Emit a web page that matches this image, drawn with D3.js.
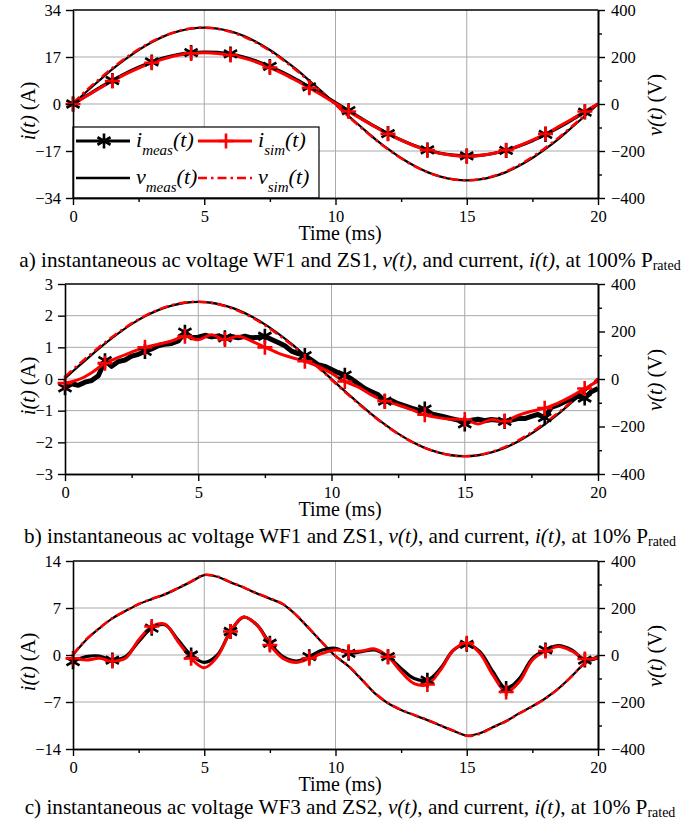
<!DOCTYPE html>
<html>
<head>
<meta charset="utf-8">
<script src="https://cdn.jsdelivr.net/npm/d3@7"></script>
<style>
body { margin: 0; background: #fff; }
text { font-family: "Liberation Serif", "Times New Roman", serif; }
</style>
</head>
<body>
<div class="canvas"></div>
<script>
// time grids (ms)
const time05 = d3.range(0, 20.001, 0.5);   // 41 points
const time025 = d3.range(0, 20.001, 0.25); // 81 points

// marker times (every 1.5 ms)
const markerTimes = [0, 1.5, 3, 4.5, 6, 7.5, 9, 10.5, 12, 13.5, 15, 16.5, 18, 19.5];

// ---- panel a : WF1 / ZS1, 100% Prated ----
const aVoltMeas = [0, 51, 100, 148, 191, 230, 263, 290, 309, 321, 325, 321, 309, 290, 263, 230, 191, 148, 100, 51, 0,
  -51, -100, -148, -191, -230, -263, -290, -309, -321, -325, -321, -309, -290, -263, -230, -191, -148, -100, -51, 0];
const aVoltSim = [4, 57, 106, 153, 195, 233, 265, 291, 310, 322, 325, 320, 307, 287, 260, 226, 187, 144, 97, 48, -3,
  -54, -103, -150, -193, -231, -264, -290, -309, -321, -325, -320, -307, -287, -259, -225, -186, -143, -96, -47, 2];
const aCurMeas = [0, 2.9, 5.8, 8.5, 11.1, 13.3, 15.2, 16.8, 17.9, 18.6, 18.8, 18.7, 18.1, 17.0, 15.5, 13.6, 11.4, 8.9, 6.2, 3.4, 0.5,
  -2.4, -5.3, -8.1, -10.7, -13.0, -15.0, -16.6, -17.8, -18.5, -18.8, -18.6, -17.9, -16.8, -15.2, -13.3, -11.0, -8.5, -5.8, -2.9, 0];
const aCurSim = [0, 2.8, 5.6, 8.3, 10.8, 13.0, 14.9, 16.4, 17.6, 18.3, 18.5, 18.3, 17.7, 16.6, 15.1, 13.2, 11.0, 8.5, 5.9, 3.1, 0.2,
  -2.7, -5.5, -8.2, -10.8, -13.1, -15.1, -16.7, -17.9, -18.6, -18.9, -18.6, -17.9, -16.7, -15.1, -13.1, -10.8, -8.2, -5.5, -2.7, 0];

// ---- panel b : WF1 / ZS1, 10% Prated ----
const bVoltMeas = [3, 53, 102, 149, 192, 231, 264, 290, 309, 321, 325, 321, 309, 290, 263, 230, 191, 148, 100, 51, 0,
  -51, -100, -148, -191, -230, -263, -290, -309, -321, -325, -321, -309, -290, -263, -230, -191, -148, -100, -51, 0];
const bVoltSim = [10, 60, 108, 154, 196, 234, 266, 292, 311, 322, 325, 320, 307, 287, 260, 226, 187, 144, 97, 48, -3,
  -54, -103, -150, -193, -231, -264, -290, -309, -321, -325, -320, -307, -287, -259, -225, -186, -143, -96, -47, 2];
// measured current is noisy -> finer grid
const bCurMeas = [-0.28, -0.15, -0.2, -0.1, -0.05, 0.1, 0.58, 0.4, 0.55, 0.6, 0.72, 0.78, 0.87, 0.95, 1.05, 1.1, 1.12, 1.2, 1.48, 1.3,
  1.32, 1.38, 1.33, 1.36, 1.3, 1.34, 1.3, 1.35, 1.3, 1.32, 1.35, 1.25, 1.15, 1.05, 0.88, 0.8, 0.74, 0.6, 0.45, 0.4,
  0.3, 0.2, 0.12, 0.0, -0.15, -0.3, -0.4, -0.5, -0.7, -0.68, -0.78, -0.85, -0.92, -0.98, -0.95, -1.1, -1.15, -1.2, -1.25, -1.3,
  -1.42, -1.3, -1.27, -1.32, -1.28, -1.3, -1.34, -1.3, -1.25, -1.25, -1.18, -1.12, -1.22, -0.9, -0.82, -0.72, -0.62, -0.55, -0.6, -0.4, -0.3];
const bCurSim = [-0.13, -0.02, 0.2, 0.5, 0.68, 0.85, 1.0, 1.1, 1.2, 1.35, 1.24, 1.4, 1.25, 1.35, 1.2, 1.0, 0.82, 0.68, 0.56, 0.4, 0.18,
  -0.08, -0.25, -0.5, -0.7, -0.82, -0.97, -1.13, -1.22, -1.27, -1.28, -1.42, -1.28, -1.33, -1.15, -1.02, -0.92, -0.76, -0.55, -0.3, -0.07];

// ---- panel c : WF3 / ZS2, 10% Prated ----
const cVoltMeas = [0, 64, 113, 156, 187, 216, 238, 258, 284, 312, 340, 333, 309, 287, 262, 240, 216, 170, 112, 52, -5,
  -48, -105, -163, -205, -234, -256, -277, -300, -323, -343, -333, -307, -281, -248, -218, -184, -142, -90, -35, -5];
const cVoltSim = [2, 66, 114, 157, 188, 217, 239, 259, 285, 313, 341, 334, 310, 288, 263, 241, 217, 171, 113, 53, -4,
  -47, -104, -162, -204, -233, -255, -276, -299, -322, -344, -335, -308, -282, -249, -219, -185, -143, -91, -36, -6];
const cCurMeas = [-1.0, -0.25, -0.15, -0.75, -0.25, 2.0, 4.0, 4.5, 2.25, 0.0, -1.1, 0.0, 3.5, 5.65, 4.5, 1.75, -0.25, -0.9, -0.25, 0.75, 1.0,
  0.25, 0.5, 0.75, -0.25, -2.0, -3.5, -3.75, -2.0, 0.75, 1.6, 0.5, -2.5, -5.0, -3.5, -0.5, 0.75, 1.4, 0.75, -0.75, -0.4];
const cCurSim = [-0.5, -0.75, -0.5, -0.9, -0.5, 2.25, 4.25, 4.6, 2.0, -0.5, -1.9, -0.25, 3.5, 5.65, 4.5, 1.5, -0.5, -1.1, -0.5, 0.25, 0.75,
  0.5, 0.6, 0.9, -0.25, -2.5, -4.25, -4.4, -2.25, 0.75, 1.75, 0.25, -3.0, -5.5, -4.0, -0.75, 0.6, 1.25, 0.6, -0.6, -0.4];

// tick labels
const xTicks = [0, 5, 10, 15, 20];
const xMinor = [2.5, 7.5, 12.5, 17.5];
const vTicks = [-400, -200, 0, 200, 400];
const vMinor = [-300, -100, 100, 300];

const RED = '#ff0000';
const DASHDOT = '9,4,2.5,4';

const svg = d3.select('.canvas')
    .append('svg')
    .attr('width', 689)
    .attr('height', 822);

const zip = (ts, vs) => ts.map((t, i) => ({t: t, v: vs[i]}));

const panels = [
  { top: 10, bottom: 198, left: 73, right: 598, iDomain: [-34, 34], iTicks: [-34, -17, 0, 17, 34],
    vMeas: aVoltMeas, vSim: aVoltSim, iMeas: zip(time05, aCurMeas), iSim: zip(time05, aCurSim), noisy: false,
    label: 'a)', wf: 'WF1 and ZS1', pct: '100%', legend: true, capY: 267 },
  { top: 284, bottom: 474, left: 65, right: 598, iDomain: [-3, 3], iTicks: [-3, -2, -1, 0, 1, 2, 3],
    vMeas: bVoltMeas, vSim: bVoltSim, iMeas: zip(time025, bCurMeas), iSim: zip(time05, bCurSim), noisy: true,
    label: 'b)', wf: 'WF1 and ZS1', pct: '10%', legend: false, capY: 543 },
  { top: 561, bottom: 749, left: 73, right: 598, iDomain: [-14, 14], iTicks: [-14, -7, 0, 7, 14],
    vMeas: cVoltMeas, vSim: cVoltSim, iMeas: zip(time05, cCurMeas), iSim: zip(time05, cCurSim), noisy: false,
    label: 'c)', wf: 'WF3 and ZS2', pct: '10%', legend: false, capY: 814 }
];

// marker shapes
const starPath = r => {
  const a = r * 0.87, b = r * 0.5;
  return `M0,${-r}L0,${r}M${-a},${-b}L${a},${b}M${-a},${b}L${a},${-b}`;
};
const plusPath = r => `M${-r},0L${r},0M0,${-r}L0,${r}`;

const drawPanel = (p) => {
  const x = d3.scaleLinear().domain([0, 20]).range([p.left, p.right]);
  const yI = d3.scaleLinear().domain(p.iDomain).range([p.bottom, p.top]);
  const yV = d3.scaleLinear().domain([-400, 400]).range([p.bottom, p.top]);

  const g = svg.append('g');

  // grid
  g.selectAll('.gx').data([5, 10, 15]).enter().append('line')
    .attr('x1', d => x(d)).attr('x2', d => x(d))
    .attr('y1', p.top).attr('y2', p.bottom)
    .attr('stroke', '#a9a9a9').attr('stroke-width', 1);
  g.selectAll('.gy').data(p.iTicks.slice(1, -1)).enter().append('line')
    .attr('x1', p.left).attr('x2', p.right)
    .attr('y1', d => yI(d)).attr('y2', d => yI(d))
    .attr('stroke', '#a9a9a9').attr('stroke-width', 1);

  // lines
  const vLine = d3.line().x(d => x(d.t)).y(d => yV(d.v)).curve(d3.curveCatmullRom);
  const iLine = d3.line().x(d => x(d.t)).y(d => yI(d.v)).curve(d3.curveCatmullRom);
  const iLineRaw = d3.line().x(d => x(d.t)).y(d => yI(d.v));

  g.append('path').datum(zip(time05, p.vMeas))
    .attr('d', vLine).attr('fill', 'none').attr('stroke', '#000').attr('stroke-width', 2.3);
  g.append('path').datum(zip(time05, p.vSim))
    .attr('d', vLine).attr('fill', 'none').attr('stroke', RED).attr('stroke-width', 2.5)
    .attr('stroke-dasharray', DASHDOT);
  g.append('path').datum(p.iMeas)
    .attr('d', p.noisy ? iLineRaw : iLine).attr('fill', 'none').attr('stroke', '#000')
    .attr('stroke-width', p.noisy ? 5 : 3.2).attr('stroke-linejoin', 'round');
  g.append('path').datum(p.iSim)
    .attr('d', iLine).attr('fill', 'none').attr('stroke', RED).attr('stroke-width', 3);

  // markers
  const onMarker = d => markerTimes.some(m => Math.abs(m - d.t) < 1e-6);
  g.selectAll('.mk').data(p.iMeas.filter(onMarker)).enter().append('path')
    .attr('transform', d => `translate(${x(d.t)},${yI(d.v)})`)
    .attr('d', starPath(7.5)).attr('stroke', '#000').attr('stroke-width', 2.6).attr('fill', 'none');
  g.selectAll('.ms').data(p.iSim.filter(onMarker)).enter().append('path')
    .attr('transform', d => `translate(${x(d.t)},${yI(d.v)})`)
    .attr('d', plusPath(7.5)).attr('stroke', RED).attr('stroke-width', 2.6).attr('fill', 'none');

  // top frame line
  g.append('line').attr('x1', p.left).attr('x2', p.right).attr('y1', p.top).attr('y2', p.top)
    .attr('stroke', '#000').attr('stroke-width', 1.5);

  // legend (panel a only)
  if (p.legend) {
    const lg = g.append('g');
    lg.append('rect').attr('x', p.left).attr('y', 127).attr('width', 246).attr('height', p.bottom - 127)
      .attr('fill', '#fff').attr('stroke', '#000').attr('stroke-width', 1.2);
    const rows = [
      {x0: 76, y: 141, color: '#000', dash: null, mk: starPath, text: ['i', 'meas']},
      {x0: 198, y: 141, color: RED, dash: null, mk: plusPath, text: ['i', 'sim']},
      {x0: 76, y: 178, color: '#000', dash: null, mk: null, text: ['v', 'meas']},
      {x0: 198, y: 178, color: RED, dash: DASHDOT, mk: null, text: ['v', 'sim']}
    ];
    rows.forEach(r => {
      lg.append('line').attr('x1', r.x0).attr('x2', r.x0 + 54).attr('y1', r.y).attr('y2', r.y)
        .attr('stroke', r.color).attr('stroke-width', r.mk ? 3 : 2.5)
        .attr('stroke-dasharray', r.dash);
      if (r.mk) {
        lg.append('path').attr('transform', `translate(${r.x0 + 28},${r.y})`)
          .attr('d', r.mk(7.5)).attr('stroke', r.color).attr('stroke-width', 2.6).attr('fill', 'none');
      }
      const t = lg.append('text').attr('x', r.x0 + 60).attr('y', r.y + 6)
        .attr('font-size', 22).attr('font-style', 'italic');
      t.append('tspan').text(r.text[0]);
      t.append('tspan').attr('font-size', 15).attr('dy', 8).text(r.text[1]);
      t.append('tspan').attr('dy', -8).text('(t)');
    });
  }

  // axes
  const styleAxis = sel => {
    sel.attr('font-family', null);
    sel.selectAll('path.domain').attr('stroke', '#000').attr('stroke-width', 1.6);
    sel.selectAll('.tick line').attr('stroke', '#000').attr('stroke-width', 1.4);
    sel.selectAll('text').attr('font-size', 16.5).attr('fill', '#000');
  };

  g.append('g').attr('transform', `translate(${p.left},0)`)
    .call(d3.axisLeft(yI).tickValues(p.iTicks).tickFormat(d3.format('d'))
      .tickSize(7).tickPadding(5).tickSizeOuter(0))
    .call(styleAxis);
  g.append('g').attr('transform', `translate(${p.right},0)`)
    .call(d3.axisRight(yV).tickValues(vTicks).tickFormat(d3.format('d'))
      .tickSize(7).tickPadding(6).tickSizeOuter(0))
    .call(styleAxis);
  g.append('g').attr('transform', `translate(${p.right},0)`)
    .call(d3.axisRight(yV).tickValues(vMinor).tickSize(4).tickFormat('').tickSizeOuter(0))
    .call(styleAxis);
  g.append('g').attr('transform', `translate(0,${p.bottom})`)
    .call(d3.axisBottom(x).tickValues(xTicks).tickFormat(d3.format('d'))
      .tickSize(7).tickPadding(5).tickSizeOuter(0))
    .call(styleAxis);
  g.append('g').attr('transform', `translate(0,${p.bottom})`)
    .call(d3.axisBottom(x).tickValues(xMinor).tickSize(4).tickFormat('').tickSizeOuter(0))
    .call(styleAxis);

  // axis titles
  const mid = (p.top + p.bottom) / 2;
  const lt = g.append('text').attr('transform', `translate(35,${mid + 7}) rotate(-90)`)
    .attr('text-anchor', 'middle').attr('font-size', 20.5);
  lt.append('tspan').attr('font-style', 'italic').text('i(t)');
  lt.append('tspan').text(' (A)');
  const rt = g.append('text').attr('transform', `translate(662,${mid + 1}) rotate(-90)`)
    .attr('text-anchor', 'middle').attr('font-size', 20.5);
  rt.append('tspan').attr('font-style', 'italic').text('v(t)');
  rt.append('tspan').text(' (V)');
  g.append('text').attr('x', 340).attr('y', p.bottom + 42)
    .attr('text-anchor', 'middle').attr('font-size', 20).text('Time (ms)');

  // caption
  const cap = g.append('text').attr('x', 350).attr('y', p.capY)
    .attr('text-anchor', 'middle').attr('font-size', 21.2);
  cap.append('tspan').text(`${p.label} instantaneous ac voltage ${p.wf}, `);
  cap.append('tspan').attr('font-style', 'italic').text('v(t)');
  cap.append('tspan').text(', and current, ');
  cap.append('tspan').attr('font-style', 'italic').text('i(t)');
  cap.append('tspan').text(`, at ${p.pct} P`);
  cap.append('tspan').attr('font-size', 14).attr('dy', 3).text('rated');
};

panels.forEach(drawPanel);
</script>
</body>
</html>
